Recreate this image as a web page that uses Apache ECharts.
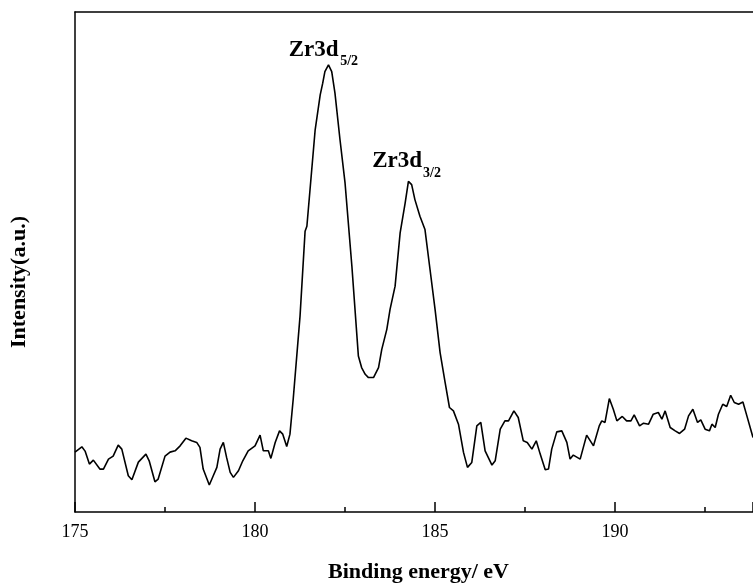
<!DOCTYPE html>
<html>
<head>
<meta charset="utf-8">
<script src="https://cdn.jsdelivr.net/npm/echarts@6/dist/echarts.min.js"></script>
<style>html,body{margin:0;padding:0;background:#fff;}#chart{width:753px;height:588px;}</style>
</head>
<body>
<div id="chart"></div>
<script>
// Binding energy (eV)
var energy = [175.00,175.19,175.28,175.40,175.51,175.69,175.79,175.93,176.06,176.20,176.30,176.48,176.58,176.76,176.97,177.06,177.22,177.31,177.50,177.64,177.78,177.92,178.08,178.24,178.38,178.47,178.56,178.73,178.84,178.94,179.03,179.12,179.21,179.31,179.40,179.54,179.66,179.81,180.00,180.14,180.23,180.37,180.44,180.56,180.68,180.77,180.88,180.97,181.06,181.25,181.39,181.44,181.67,181.81,181.88,181.94,182.04,182.13,182.22,182.36,182.50,182.69,182.87,182.96,183.06,183.15,183.29,183.43,183.52,183.66,183.75,183.89,184.03,184.17,184.26,184.35,184.44,184.58,184.72,184.86,185.00,185.14,185.28,185.40,185.51,185.65,185.79,185.90,186.02,186.16,186.27,186.39,186.58,186.67,186.81,186.94,187.04,187.19,187.31,187.45,187.56,187.69,187.81,187.92,188.06,188.15,188.24,188.38,188.52,188.66,188.75,188.84,189.03,189.21,189.40,189.56,189.63,189.72,189.84,189.95,190.05,190.20,190.32,190.44,190.53,190.68,190.79,190.93,191.06,191.20,191.30,191.39,191.53,191.67,191.79,191.93,192.04,192.16,192.29,192.38,192.50,192.62,192.69,192.78,192.87,192.99,193.10,193.21,193.31,193.43,193.55,193.66,193.83];
// Intensity (a.u.)
var intensity = [12.0,13.06,12.2,9.6,10.4,8.6,8.6,10.6,11.2,13.4,12.6,7.26,6.46,10.0,11.6,10.26,6.06,6.6,11.2,12.0,12.26,13.26,14.8,14.26,13.94,12.94,8.6,5.4,7.26,8.94,12.6,13.94,10.94,7.94,6.94,8.26,10.26,12.26,13.26,15.4,12.26,12.26,10.74,13.94,16.26,15.6,13.14,15.6,22.6,39.26,56.26,57.26,76.6,83.6,85.94,88.26,89.6,88.26,83.94,74.6,65.94,49.26,31.26,28.94,27.6,26.94,26.94,28.94,32.6,36.6,40.6,45.26,55.94,61.94,66.26,65.6,62.6,59.26,56.6,48.6,40.6,31.94,25.94,20.94,20.26,17.6,11.94,8.94,9.94,17.26,17.94,12.26,9.4,10.26,16.6,18.26,18.26,20.26,18.94,14.26,13.94,12.6,14.26,11.6,8.46,8.6,12.6,16.06,16.26,13.94,10.6,11.4,10.6,15.4,13.26,17.26,18.26,17.94,22.74,20.6,18.26,19.14,18.26,18.26,19.46,17.26,17.8,17.6,19.6,19.94,18.6,20.26,16.94,16.26,15.74,16.6,19.26,20.6,17.94,18.46,16.6,16.26,17.6,16.94,19.6,21.6,21.14,23.4,21.94,21.6,22.06,19.26,14.94];
// Peak annotations
var peakNames = ['Zr3d', 'Zr3d'];
var peakSubs = ['5/2', '3/2'];
var peakPos = [[182.04, 89.6], [184.26, 66.26]];

var FONT = "'Times New Roman', 'Liberation Serif', serif";
var data = energy.map(function (e, i) { return [e, intensity[i]]; });

var markData = [];
var mainOff = [[10, -15], [13.7, -20]];
var subOff = [[11.7, -4], [14.7, -8]];
peakPos.forEach(function (p, i) {
  markData.push({
    coord: p,
    label: { show: true, formatter: peakNames[i], position: 'inside', align: 'right', verticalAlign: 'middle',
      offset: mainOff[i], fontSize: 23, fontWeight: 'bold', fontFamily: FONT, color: '#000' }
  });
  markData.push({
    coord: p,
    label: { show: true, formatter: peakSubs[i], position: 'inside', align: 'left', verticalAlign: 'middle',
      offset: subOff[i], fontSize: 14, fontWeight: 'bold', fontFamily: FONT, color: '#000' }
  });
});

var chart = echarts.init(document.getElementById('chart'), null, { renderer: 'canvas' });
chart.setOption({
  animation: false,
  backgroundColor: '#fff',
  grid: { left: 75, top: 12, right: 0, bottom: 75, show: false },
  xAxis: [{
    type: 'value', min: 175, max: 193.83, interval: 5,
    name: 'Binding energy/ eV', nameLocation: 'middle', nameGap: 49,
    nameTextStyle: { fontSize: 22, fontWeight: 'bold', fontFamily: FONT, color: '#000', padding: [0, 0, 0, 9] },
    axisLine: { show: true, lineStyle: { color: '#000', width: 1.5 } },
    axisTick: { show: true, inside: true, length: 10, lineStyle: { color: '#000', width: 1.5 } },
    minorTick: { show: true, splitNumber: 2, length: 5, lineStyle: { color: '#000', width: 1.5 } },
    axisLabel: { margin: 11, fontSize: 18, fontFamily: FONT, color: '#000', showMaxLabel: false,
      formatter: function (v) { return v % 5 === 0 ? String(v) : ''; } },
    splitLine: { show: false }
  }, {
    type: 'value', position: 'top', min: 175, max: 193.83,
    axisLine: { show: true, lineStyle: { color: '#000', width: 1.5 } },
    axisTick: { show: false }, axisLabel: { show: false }, splitLine: { show: false }
  }],
  yAxis: {
    type: 'value', min: 0, max: 100.2,
    name: 'Intensity(a.u.)', nameLocation: 'middle', nameGap: 45,
    nameTextStyle: { fontSize: 22, fontWeight: 'bold', fontFamily: FONT, color: '#000', padding: [0, 40, 0, 0] },
    axisLine: { show: true, lineStyle: { color: '#000', width: 1.5 } },
    axisTick: { show: false },
    axisLabel: { show: false },
    splitLine: { show: false }
  },
  series: [{
    type: 'line', data: data, showSymbol: false, symbol: 'none', xAxisIndex: 0,
    lineStyle: { color: '#000', width: 1.6 },
    markPoint: { symbol: 'circle', symbolSize: 0, data: markData, silent: true }
  }]
});
</script>
</body>
</html>
